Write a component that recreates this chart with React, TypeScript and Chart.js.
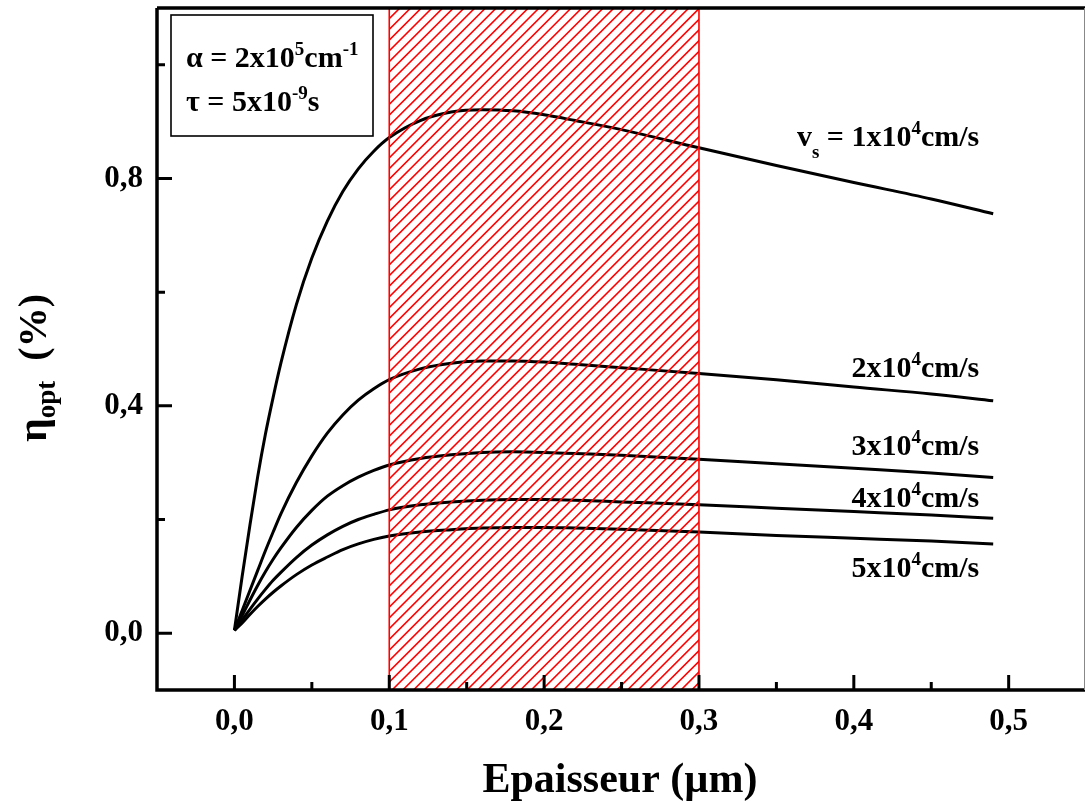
import React, { useEffect, useRef } from 'react';
import { Chart, registerables } from 'chart.js';

Chart.register(...registerables);

// ---------- data ----------
const THICKNESS = [0, 0.005, 0.01, 0.015, 0.02, 0.025, 0.03, 0.04, 0.05, 0.06, 0.07, 0.08, 0.09, 0.1, 0.12, 0.14, 0.16, 0.18, 0.2, 0.22, 0.25, 0.3, 0.35, 0.4, 0.45, 0.49];
const ETA_VS_1E4 = [0.005, 0.1, 0.19, 0.275, 0.35, 0.415, 0.475, 0.578, 0.66, 0.725, 0.777, 0.817, 0.848, 0.872, 0.902, 0.917, 0.921, 0.919, 0.912, 0.902, 0.886, 0.854, 0.823, 0.793, 0.764, 0.738];
const ETA_VS_2E4 = [0.005, 0.04, 0.075, 0.11, 0.145, 0.178, 0.21, 0.265, 0.312, 0.352, 0.384, 0.41, 0.43, 0.446, 0.465, 0.475, 0.479, 0.479, 0.477, 0.473, 0.467, 0.457, 0.446, 0.433, 0.421, 0.409];
const ETA_VS_3E4 = [0.005, 0.031, 0.058, 0.084, 0.108, 0.13, 0.15, 0.186, 0.216, 0.241, 0.2595, 0.2745, 0.2865, 0.296, 0.3075, 0.314, 0.318, 0.319, 0.318, 0.316, 0.313, 0.306, 0.298, 0.29, 0.282, 0.274];
const ETA_VS_4E4 = [0.005, 0.023, 0.042, 0.06, 0.077, 0.093, 0.107, 0.133, 0.155, 0.173, 0.188, 0.2, 0.209, 0.217, 0.226, 0.231, 0.234, 0.235, 0.235, 0.234, 0.231, 0.226, 0.22, 0.214, 0.208, 0.202];
const ETA_VS_5E4 = [0.005, 0.018, 0.033, 0.047, 0.06, 0.072, 0.083, 0.103, 0.12, 0.134, 0.147, 0.157, 0.165, 0.171, 0.178, 0.182, 0.185, 0.186, 0.186, 0.185, 0.183, 0.178, 0.172, 0.167, 0.162, 0.157];

const SERIES = [ETA_VS_1E4, ETA_VS_2E4, ETA_VS_3E4, ETA_VS_4E4, ETA_VS_5E4];
const SERIES_MANTISSA = ['1', '2', '3', '4', '5'];

const X_TICKS = [0, 0.1, 0.2, 0.3, 0.4, 0.5];
const X_MINOR = [0.05, 0.15, 0.25, 0.35, 0.45];
const Y_TICKS = [0, 0.4, 0.8];
const Y_MINOR = [0.2, 0.6, 1.0];
const HATCH_RANGE = [0.1, 0.3];

// label anchors (right edge x, baseline y) in data units
const LABEL_X = 0.481;
const LABEL_Y = [0.858, 0.45, 0.313, 0.2215, 0.0985];

const FONT = '"Liberation Serif", "Times New Roman", Times, serif';

type Seg = { t: string; s: number; dy: number };

function segWidth(ctx: CanvasRenderingContext2D, segs: Seg[]) {
  let w = 0;
  for (const g of segs) {
    ctx.font = `bold ${g.s}px ${FONT}`;
    w += ctx.measureText(g.t).width;
  }
  return w;
}

function drawRich(ctx: CanvasRenderingContext2D, segs: Seg[], x: number, y: number, align: 'left' | 'right' | 'center') {
  const w = segWidth(ctx, segs);
  let cx = align === 'right' ? x - w : align === 'center' ? x - w / 2 : x;
  ctx.textAlign = 'left';
  ctx.textBaseline = 'alphabetic';
  for (const g of segs) {
    ctx.font = `bold ${g.s}px ${FONT}`;
    ctx.fillText(g.t, cx, y + g.dy);
    cx += ctx.measureText(g.t).width;
  }
}

const MAIN = 30;
const SMALL = 19;

const overlayPlugin = {
  id: 'overlay',
  beforeDraw(chart: any) {
    const ctx = chart.ctx;
    ctx.save();
    ctx.fillStyle = '#fff';
    ctx.fillRect(0, 0, chart.width, chart.height);
    ctx.restore();
  },
  afterDatasetsDraw(chart: any) {
    const ctx: CanvasRenderingContext2D = chart.ctx;
    const xs = chart.scales.x;
    const area = chart.chartArea;
    const x0 = xs.getPixelForValue(HATCH_RANGE[0]);
    const x1 = xs.getPixelForValue(HATCH_RANGE[1]);
    const top = area.top;
    const bottom = area.bottom;
    const h = bottom - top;
    ctx.save();
    ctx.beginPath();
    ctx.rect(x0, top, x1 - x0, h);
    ctx.clip();
    ctx.strokeStyle = '#ff0000';
    ctx.lineWidth = 1.6;
    const step = 10.7;
    ctx.beginPath();
    for (let k = -h; k < x1 - x0 + step; k += step) {
      ctx.moveTo(x0 + k, bottom);
      ctx.lineTo(x0 + k + h, top);
    }
    ctx.stroke();
    ctx.restore();
    ctx.save();
    ctx.strokeStyle = '#ff0000';
    ctx.lineWidth = 1.6;
    ctx.strokeRect(x0, top, x1 - x0, h);
    ctx.restore();
  },
  afterDraw(chart: any) {
    const ctx: CanvasRenderingContext2D = chart.ctx;
    const xs = chart.scales.x;
    const ys = chart.scales.y;
    const a = chart.chartArea;
    ctx.save();
    // frame
    ctx.strokeStyle = '#000';
    ctx.lineWidth = 3.5;
    ctx.beginPath();
    ctx.moveTo(a.left, a.top);
    ctx.lineTo(a.left, a.bottom);
    ctx.lineTo(a.right + 3, a.bottom);
    ctx.moveTo(a.left, a.top);
    ctx.lineTo(a.right + 3, a.top);
    ctx.stroke();
    ctx.strokeStyle = '#888';
    ctx.lineWidth = 1;
    ctx.beginPath();
    ctx.moveTo(chart.width - 0.5, a.top);
    ctx.lineTo(chart.width - 0.5, a.bottom);
    ctx.stroke();
    // ticks
    ctx.strokeStyle = '#000';
    ctx.lineWidth = 3;
    ctx.beginPath();
    for (const v of X_TICKS) {
      const p = xs.getPixelForValue(v);
      ctx.moveTo(p, a.bottom);
      ctx.lineTo(p, a.bottom - 15);
    }
    for (const v of X_MINOR) {
      const p = xs.getPixelForValue(v);
      ctx.moveTo(p, a.bottom);
      ctx.lineTo(p, a.bottom - 8);
    }
    for (const v of Y_TICKS) {
      const p = ys.getPixelForValue(v);
      ctx.moveTo(a.left, p);
      ctx.lineTo(a.left + 15, p);
    }
    for (const v of Y_MINOR) {
      const p = ys.getPixelForValue(v);
      ctx.moveTo(a.left, p);
      ctx.lineTo(a.left + 8, p);
    }
    ctx.stroke();

    // parameter box
    const bx = a.left + 14;
    const by = a.top + 7;
    ctx.lineWidth = 1.6;
    ctx.strokeRect(bx, by, 202, 121);
    ctx.fillStyle = '#000';
    drawRich(ctx, [
      { t: 'α = 2x10', s: MAIN, dy: 0 },
      { t: '5', s: SMALL, dy: -12 },
      { t: 'cm', s: MAIN, dy: 0 },
      { t: '-1', s: SMALL, dy: -12 },
    ], bx + 15, by + 52, 'left');
    drawRich(ctx, [
      { t: 'τ = 5x10', s: MAIN, dy: 0 },
      { t: '-9', s: SMALL, dy: -12 },
      { t: 's', s: MAIN, dy: 0 },
    ], bx + 15, by + 96, 'left');

    // curve labels
    const lx = xs.getPixelForValue(LABEL_X);
    SERIES_MANTISSA.forEach((m, i) => {
      const ly = ys.getPixelForValue(LABEL_Y[i]);
      const segs: Seg[] = i === 0
        ? [
            { t: 'v', s: MAIN, dy: 0 },
            { t: 's', s: SMALL, dy: 12 },
            { t: ' = ' + m + 'x10', s: MAIN, dy: 0 },
            { t: '4', s: SMALL, dy: -12 },
            { t: 'cm/s', s: MAIN, dy: 0 },
          ]
        : [
            { t: m + 'x10', s: MAIN, dy: 0 },
            { t: '4', s: SMALL, dy: -12 },
            { t: 'cm/s', s: MAIN, dy: 0 },
          ];
      drawRich(ctx, segs, lx, ly, 'right');
    });

    // y-axis title (rotated, with subscript)
    ctx.translate(46, 442);
    ctx.rotate(-Math.PI / 2);
    drawRich(ctx, [
      { t: 'η', s: 42, dy: 0 },
      { t: 'opt', s: 27, dy: 9 },
      { t: '  (%)', s: 40, dy: 0 },
    ], 0, 0, 'left');
    ctx.restore();
  },
};

const fmt = (v: any) => Number(v).toFixed(1).replace('.', ',');

export default function App() {
  const ref = useRef<HTMLCanvasElement | null>(null);
  useEffect(() => {
    const canvas = ref.current!;
    const chart = new Chart(canvas, {
      type: 'line',
      data: {
        datasets: SERIES.map((vals, si) => ({
          label: SERIES_MANTISSA[si],
          data: THICKNESS.map((x, i) => ({ x, y: vals[i] })),
          borderColor: '#000',
          borderWidth: 3,
          pointRadius: 0,
          fill: false,
          cubicInterpolationMode: 'monotone' as const,
        })),
      },
      options: {
        animation: false,
        responsive: false,
        devicePixelRatio: 1,
        layout: { padding: { left: 0, top: 8, right: 2, bottom: 0 } },
        plugins: { legend: { display: false }, tooltip: { enabled: false } },
        scales: {
          x: {
            type: 'linear',
            min: -0.05,
            max: 0.548,
            grid: { display: false },
            border: { display: false },
            afterBuildTicks: (s: any) => {
              s.ticks = X_TICKS.map((v) => ({ value: v }));
            },
            afterFit: (s: any) => {
              s.height = 113;
              s.paddingLeft = 0;
              s.paddingRight = 0;
            },
            ticks: {
              autoSkip: false,
              maxRotation: 0,
              padding: 5,
              color: '#000',
              font: { family: FONT, size: 31, weight: 'bold' },
              callback: (v: any) => fmt(v),
            },
            title: {
              display: true,
              text: 'Epaisseur (µm)',
              color: '#000',
              font: { family: FONT, size: 42, weight: 'bold' },
              padding: { top: 0, bottom: -3 },
            },
          },
          y: {
            type: 'linear',
            min: -0.1,
            max: 1.1,
            grid: { display: false },
            border: { display: false },
            afterBuildTicks: (s: any) => {
              s.ticks = Y_TICKS.map((v) => ({ value: v }));
            },
            afterFit: (s: any) => {
              s.width = 157;
              s.paddingTop = 0;
              s.paddingBottom = 0;
            },
            ticks: {
              padding: 6,
              color: '#000',
              font: { family: FONT, size: 31, weight: 'bold' },
              callback: (v: any) => fmt(v),
            },
          },
        },
      } as any,
      plugins: [overlayPlugin],
    });
    return () => chart.destroy();
  }, []);
  return (
    <div style={{ position: 'fixed', left: 0, top: 0, width: 1085, height: 803, background: '#fff' }}>
      <canvas ref={ref} width={1085} height={803} style={{ width: 1085, height: 803, display: 'block' }} />
    </div>
  );
}
